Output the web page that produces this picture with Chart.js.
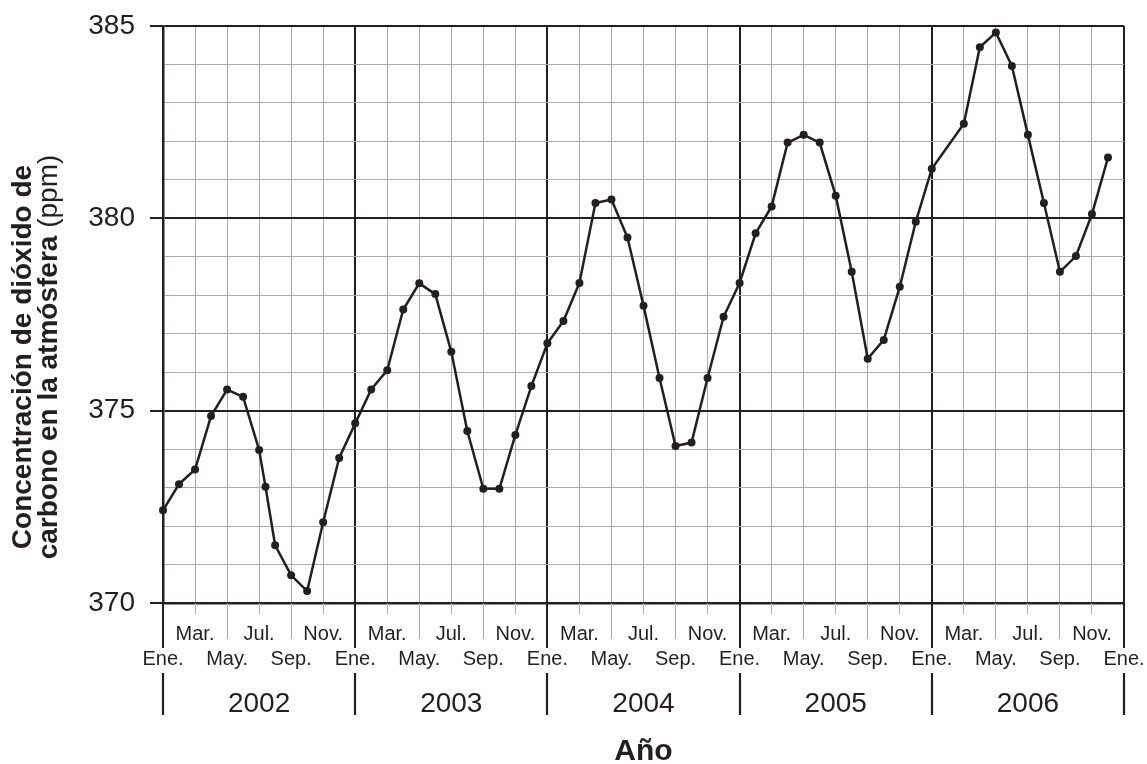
<!DOCTYPE html>
<html><head><meta charset="utf-8">
<script src="https://cdn.jsdelivr.net/npm/chart.js@4.4.1/dist/chart.umd.min.js"></script>
<style>html,body{margin:0;padding:0;background:#fff;} canvas{display:block;}</style>
</head><body>
<canvas id="c" width="1147" height="764"></canvas>
<script>
// Months counted from Ene. 2002 (0) to Ene. 2007 (60)
const monthIndex = [0,1,2,3,4,5,6,6.4,7,8,9,10,11,
  12,13,14,15,16,17,18,19,20,21,22,23,
  24,25,26,27,28,29,30,31,32,33,34,35,
  36,37,38,39,40,41,42,43,44,45,46,47,
  48,50,51,52,53,54,55,56,57,58,59];
const co2ppm = [372.41,373.09,373.47,374.86,375.55,375.36,373.98,373.02,371.50,370.72,370.31,372.10,373.77,
  374.67,375.55,376.05,377.63,378.31,378.03,376.53,374.47,372.97,372.97,374.37,375.64,
  376.75,377.33,378.32,380.40,380.49,379.50,377.73,375.85,374.08,374.17,375.85,377.44,
  378.32,379.61,380.31,381.97,382.17,381.97,380.59,378.61,376.35,376.84,378.22,379.91,
  381.29,382.46,384.45,384.83,383.96,382.17,380.40,378.61,379.02,380.11,381.58];
const monthNames = ['Ene.','Feb.','Mar.','Abr.','May.','Jun.','Jul.','Ago.','Sep.','Oct.','Nov.','Dic.'];
const upperRowMonths = [2,6,10];
const yearLabels = ['2002','2003','2004','2005','2006'];
const yLabelStep = 5;
const yTitleLine1 = 'Concentración de dióxido de';
const yTitleLine2Bold = 'carbono en la atmósfera ';
const yTitleLine2Normal = '(ppm)';
const xTitle = 'Año';

const INK = '#231f20';
const GRAY = '#acacac';
const FAMILY = '"Liberation Sans", Arial, Helvetica, sans-serif';
Chart.defaults.font.family = FAMILY;
Chart.defaults.color = INK;

const points = monthIndex.map((m, i) => ({x: m, y: co2ppm[i]}));

const decor = {
  id: 'decor',
  afterDraw(chart) {
    const ctx = chart.ctx, xs = chart.scales.x, ys = chart.scales.y, area = chart.chartArea;
    const base = area.bottom;
    const seg = (x0, y0, x1, y1, color, w) => {
      ctx.strokeStyle = color; ctx.lineWidth = w;
      ctx.beginPath(); ctx.moveTo(x0, y0); ctx.lineTo(x1, y1); ctx.stroke();
    };
    ctx.save();
    for (let m = 0; m <= 60; m += 2) {
      const px = xs.getPixelForValue(m);
      const mm = m % 12;
      if (mm === 0) seg(Math.round(px), base, Math.round(px), base + 45, INK, 2);
      else if (mm === 4 || mm === 8) seg(Math.floor(px) + 0.5, base, Math.floor(px) + 0.5, base + 36, GRAY, 1);
      else seg(Math.floor(px) + 0.5, base, Math.floor(px) + 0.5, base + 11, GRAY, 1);
    }
    for (let m = 0; m <= 60; m += 12) {
      const px = Math.round(xs.getPixelForValue(m));
      seg(px, base + 70, px, base + 112, INK, 2.2);
    }
    for (let v = ys.min; v <= ys.max; v += yLabelStep) {
      const py = Math.round(ys.getPixelForValue(v));
      seg(area.left - 13, py, area.left, py, INK, 2);
    }
    ctx.restore();

    // y axis title
    const cy = 357;
    ctx.save();
    ctx.fillStyle = INK;
    ctx.translate(31, cy); ctx.rotate(-Math.PI / 2);
    ctx.textAlign = 'center'; ctx.textBaseline = 'alphabetic';
    ctx.font = 'bold 28px ' + FAMILY;
    ctx.fillText(yTitleLine1, 0, 0);
    ctx.restore();
    ctx.save();
    ctx.fillStyle = INK;
    ctx.translate(57, cy); ctx.rotate(-Math.PI / 2);
    ctx.textAlign = 'left'; ctx.textBaseline = 'alphabetic';
    const fb = 'bold 28px ' + FAMILY, fn = '28px ' + FAMILY;
    ctx.font = fb; const w1 = ctx.measureText(yTitleLine2Bold).width;
    ctx.font = fn; const w2 = ctx.measureText(yTitleLine2Normal).width;
    const start = -(w1 + w2) / 2;
    ctx.font = fb; ctx.fillText(yTitleLine2Bold, start, 0);
    ctx.font = fn; ctx.fillText(yTitleLine2Normal, start + w1, 0);
    ctx.restore();
  }
};

new Chart(document.getElementById('c'), {
  type: 'line',
  data: {
    datasets: [{
      data: points,
      xAxisID: 'x', yAxisID: 'y',
      borderColor: INK, borderWidth: 2.5,
      pointRadius: 4, pointBackgroundColor: INK, pointBorderColor: INK, pointBorderWidth: 0,
      tension: 0, clip: false
    }]
  },
  options: {
    responsive: false, animation: false, devicePixelRatio: 1,
    layout: {padding: {top: 26, right: 23, left: 0, bottom: 0}},
    plugins: {legend: {display: false}, tooltip: {enabled: false}},
    scales: {
      x: {
        type: 'linear', position: 'bottom', min: 0, max: 60, weight: 0,
        afterFit: s => { s.height = 80; },
        ticks: {
          stepSize: 2, autoSkip: false, maxRotation: 0, minRotation: 0,
          padding: 0, color: INK,
          font: {size: 20, lineHeight: 1.25},
          callback: v => {
            const mm = ((v % 12) + 12) % 12;
            const name = monthNames[mm];
            return upperRowMonths.includes(mm) ? [name, ''] : ['', name];
          }
        },
        grid: {
          drawTicks: true, tickLength: 18.5, tickColor: 'rgba(0,0,0,0)',
          color: c => (c.tick && c.tick.value % 12 === 0) ? INK : GRAY,
          lineWidth: c => (c.tick && c.tick.value % 12 === 0) ? 2 : 1
        },
        border: {display: true, color: INK, width: 2.5}
      },
      x2: {
        type: 'linear', position: 'bottom', min: 0, max: 60, weight: 1,
        afterFit: s => { s.height = 81; },
        afterBuildTicks: s => { s.ticks = yearLabels.map((_, i) => ({value: 6 + 12 * i})); },
        ticks: {
          autoSkip: false, maxRotation: 0, padding: 0, color: INK,
          font: {size: 28, lineHeight: 1.2},
          callback: v => yearLabels[Math.round((v - 6) / 12)]
        },
        grid: {display: false, drawTicks: true, tickLength: 4},
        border: {display: false},
        title: {display: true, text: xTitle, color: INK, font: {size: 30, weight: 'bold', lineHeight: 0.8}, padding: 0}
      },
      y: {
        type: 'linear', min: 370, max: 385,
        afterFit: s => { s.width = 163; },
        ticks: {
          stepSize: 1, autoSkip: false, padding: 0, color: INK,
          font: {size: 28},
          callback: v => (v % yLabelStep === 0) ? String(v) : ''
        },
        grid: {
          drawTicks: true, tickLength: 28, tickColor: 'rgba(0,0,0,0)',
          color: c => (c.tick && c.tick.value % yLabelStep === 0) ? INK : GRAY,
          lineWidth: c => (c.tick && c.tick.value % yLabelStep === 0) ? 2 : 1
        },
        border: {display: true, color: INK, width: 2.5}
      }
    }
  },
  plugins: [decor]
});
</script>
</body></html>
